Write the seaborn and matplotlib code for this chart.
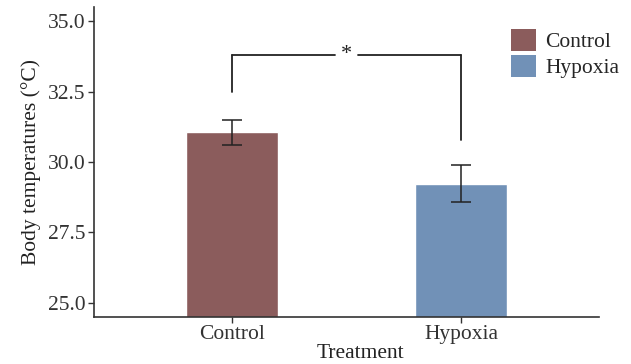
import matplotlib
matplotlib.use("Agg")
import matplotlib.pyplot as plt
import seaborn as sns
import pandas as pd
from matplotlib.patches import Patch

treatments = ["Control", "Hypoxia"]
means = [31.05, 29.23]
errors = [0.45, 0.66]
colors = ["#8B5C5C", "#7191B7"]
yticks = [25.0, 27.5, 30.0, 32.5, 35.0]
bracket_y = 33.78
bracket_ends = [32.47, 30.78]
sig_label = "*"

sns.set_theme(style="white")
plt.rcParams["font.family"] = ["Liberation Serif", "DejaVu Serif"]

df = pd.DataFrame({"Treatment": treatments, "Temp": means})

fig = plt.figure(figsize=(6.31, 3.64), dpi=100)
L, R, T, B = 94, 599, 7, 317
ax = fig.add_axes([L/631, 1-B/364, (R-L)/631, (B-T)/364])

sns.barplot(data=df, x="Treatment", y="Temp", hue="Treatment",
            palette=colors, width=0.4, errorbar=None, legend=False, ax=ax,
            saturation=1)
ax.errorbar(x=[0, 1], y=means, yerr=errors, fmt="none", ecolor="#222222",
            elinewidth=1.1, capsize=7, capthick=1.1)

ax.set_ylim(24.5, 35.5)
ax.set_xlim(-0.6, 1.6)
ax.set_yticks(yticks)
ax.set_yticklabels([f"{t:.1f}" for t in yticks])

# significance bracket
xs = [0, 1]
gap_c = 0.5
gap_h = 0.051
lc = "#222222"
ax.plot([xs[0], xs[0]], [bracket_ends[0], bracket_y], color=lc, lw=1.3)
ax.plot([xs[0], gap_c - gap_h], [bracket_y, bracket_y], color=lc, lw=1.3)
ax.plot([gap_c + gap_h, xs[1]], [bracket_y, bracket_y], color=lc, lw=1.3)
ax.plot([xs[1], xs[1]], [bracket_y, bracket_ends[1]], color=lc, lw=1.3)
ax.text(gap_c, bracket_y + 0.05, sig_label, ha="center", va="center", fontsize=16, color=lc)

for s in ["top", "right"]:
    ax.spines[s].set_visible(False)
for s in ["left", "bottom"]:
    ax.spines[s].set_color("#333333")
    ax.spines[s].set_linewidth(1.2)
ax.tick_params(axis="both", which="both", direction="out", length=4, width=1,
               color="#333333", labelsize=15.5, labelcolor="#333333", bottom=True, left=True, pad=2)
ax.set_ylabel("Body temperatures (°C)", fontsize=15.5, color="#222222", labelpad=5)
ax.set_xlabel("Treatment", fontsize=15.5, color="#222222", labelpad=0)
ax.xaxis.set_label_coords((360 - L) / (R - L), -(354 - B) / (B - T), transform=ax.transAxes)
ax.xaxis.label.set_va("center")

handles = [Patch(facecolor=c, edgecolor="none") for c in colors]
leg = fig.legend(handles, treatments, loc="upper left", bbox_to_anchor=(496/631, 1-14/364),
                 frameon=False, fontsize=15.5, handlelength=1.15, handleheight=1.2,
                 handletextpad=0.45, labelspacing=0.12, borderpad=0.2)

fig.savefig("out.png", dpi=100)
